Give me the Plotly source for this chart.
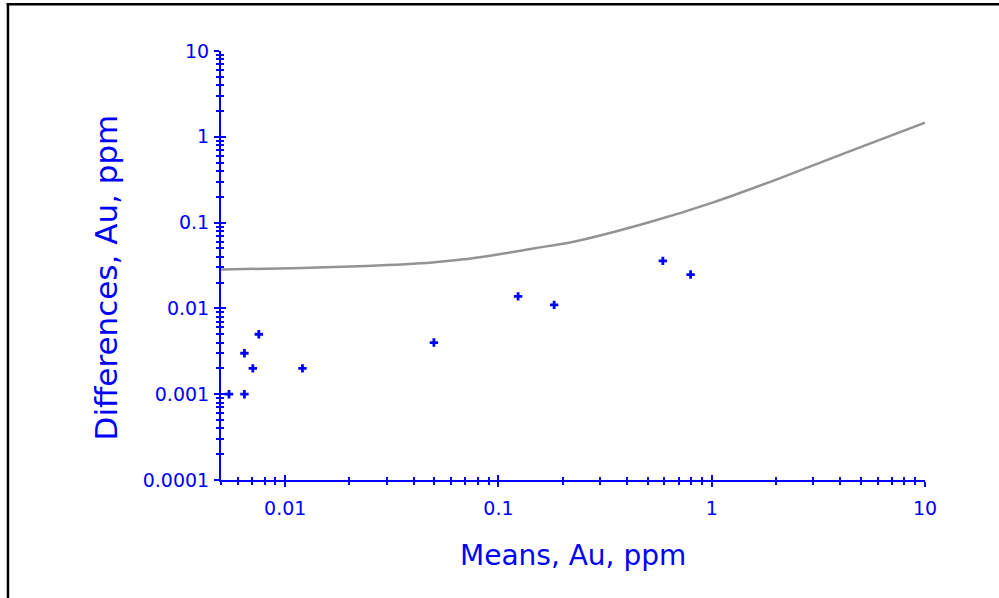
import plotly.graph_objects as go

# paired samples: mean of duplicates vs absolute difference
means = [0.00545, 0.00644, 0.00644, 0.00705, 0.00752, 0.01205, 0.0498, 0.1236, 0.1824, 0.590, 0.796]
diffs = [0.001, 0.001, 0.003, 0.002, 0.005, 0.002, 0.004, 0.0138, 0.011, 0.0358, 0.0248]

# precision control line
line_means = [0.005, 0.0121, 0.024, 0.049, 0.0686, 0.0851, 0.1151, 0.1507, 0.2249, 0.49, 1.01, 2.08, 4.27, 10]
line_diffs = [0.0284, 0.0296, 0.0312, 0.0343, 0.0373, 0.0401, 0.0451, 0.0506, 0.0598, 0.0982, 0.171, 0.328, 0.655, 1.46]

x_ticks = [0.01, 0.1, 1, 10]
x_labels = ['0.01', '0.1', '1', '10']
y_ticks = [0.0001, 0.001, 0.01, 0.1, 1, 10]
y_labels = ['0.0001', '0.001', '0.01', '0.1', '1', '10']

x_minor = [m * d for d in [0.001, 0.01, 0.1, 1] for m in range(2, 10) if 0.005 <= m * d <= 10]
y_minor = [m * d for d in [0.0001, 0.001, 0.01, 0.1, 1] for m in range(2, 10)]

BLUE = '#0000FF'
FONT = 'DejaVu Sans'

fig = go.Figure()

fig.add_trace(go.Scatter(x=line_means, y=line_diffs, mode='lines',
                         line=dict(color='#939393', width=2.5, shape='spline', smoothing=0.8),
                         hoverinfo='skip', showlegend=False))
fig.add_trace(go.Scatter(x=means, y=diffs, mode='markers',
                         marker=dict(symbol='cross', size=7, color=BLUE, line=dict(width=0)),
                         showlegend=False))
# dummy trace so the overlay axes (inner half of the ticks) get drawn
fig.add_trace(go.Scatter(x=[], y=[], xaxis='x2', yaxis='y2', showlegend=False))

x_range = [-2.30103, 1]
y_range = [-4, 1]

axis_common = dict(type='log', showgrid=False, zeroline=False, tickcolor=BLUE,
                   tickwidth=2, tickfont=dict(family=FONT, size=19, color=BLUE))

fig.update_layout(
    width=999, height=598,
    margin=dict(l=221, r=74, t=51, b=118),
    paper_bgcolor='white', plot_bgcolor='white',
    xaxis=dict(**axis_common, range=x_range, tickmode='array', tickvals=x_ticks, ticktext=x_labels,
               ticks='outside', ticklen=5, showline=True, linecolor=BLUE, linewidth=2,
               ticklabelstandoff=5,
               minor=dict(tickmode='array', tickvals=x_minor, ticks='outside', ticklen=3,
                          tickcolor=BLUE, tickwidth=2)),
    yaxis=dict(**axis_common, range=y_range, tickmode='array', tickvals=y_ticks, ticktext=y_labels,
               ticks='outside', ticklen=5, showline=True, linecolor=BLUE, linewidth=2,
               ticklabelstandoff=1,
               minor=dict(tickmode='array', tickvals=y_minor, ticks='outside', ticklen=3,
                          tickcolor=BLUE, tickwidth=2)),
    xaxis2=dict(**axis_common, range=x_range, overlaying='x', anchor='y2', side='bottom',
                tickmode='array', tickvals=x_ticks, ticks='inside', ticklen=5, showticklabels=False,
                minor=dict(tickmode='array', tickvals=x_minor, ticks='inside', ticklen=3,
                           tickcolor=BLUE, tickwidth=2)),
    yaxis2=dict(**axis_common, range=y_range, overlaying='y', anchor='x2', side='left',
                tickmode='array', tickvals=y_ticks, ticks='inside', ticklen=5, showticklabels=False,
                minor=dict(tickmode='array', tickvals=y_minor, ticks='inside', ticklen=3,
                           tickcolor=BLUE, tickwidth=2)),
    annotations=[
        dict(text='Means, Au, ppm', xref='paper', yref='paper', x=0.5, y=-0.175,
             xanchor='center', yanchor='middle', showarrow=False,
             font=dict(family=FONT, size=28, color=BLUE)),
        dict(text='Differences, Au, ppm', xref='paper', yref='paper', x=-0.164, y=0.471,
             xanchor='center', yanchor='middle', textangle=-90, showarrow=False,
             font=dict(family=FONT, size=31, color=BLUE)),
    ],
    # window frame of the original screenshot (only top and left edges visible)
    shapes=[
        dict(type='line', xref='paper', yref='paper', x0=-0.3045, x1=1.2, y0=1.1089, y1=1.1089,
             line=dict(color='black', width=2.5), layer='below'),
        dict(type='line', xref='paper', yref='paper', x0=-0.3026, x1=-0.3026, y0=-0.4, y1=1.1115,
             line=dict(color='black', width=2.5), layer='below'),
    ],
)

# drop the default page margin and scrollbars so the figure sits at the window corner
fig.write_html("out.html", config={'displayModeBar': False},
               post_script="document.body.style.margin='0';"
                           "document.body.style.overflow='hidden';"
                           "document.documentElement.style.overflow='hidden';")
